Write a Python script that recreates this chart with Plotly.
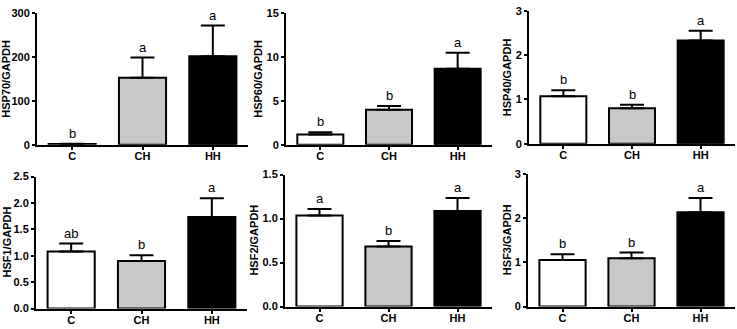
import plotly.graph_objects as go

categories = ["C", "CH", "HH"]
bar_colors = ["#ffffff", "#c8c8c8", "#000000"]

titles = ["HSP70/GAPDH", "HSP60/GAPDH", "HSP40/GAPDH", "HSF1/GAPDH", "HSF2/GAPDH", "HSF3/GAPDH"]

hsp70 = [1.5, 152, 201]
hsp70_err = [0.5, 46, 70]
hsp70_letters = ["b", "a", "a"]

hsp60 = [1.17, 3.97, 8.63]
hsp60_err = [0.25, 0.43, 1.82]
hsp60_letters = ["b", "b", "a"]

hsp40 = [1.07, 0.80, 2.33]
hsp40_err = [0.14, 0.08, 0.22]
hsp40_letters = ["b", "b", "a"]

hsf1 = [1.08, 0.90, 1.735]
hsf1_err = [0.15, 0.11, 0.355]
hsf1_letters = ["ab", "b", "a"]

hsf2 = [1.035, 0.684, 1.087]
hsf2_err = [0.075, 0.062, 0.146]
hsf2_letters = ["a", "b", "a"]

hsf3 = [1.05, 1.09, 2.13]
hsf3_err = [0.13, 0.13, 0.32]
hsf3_letters = ["b", "b", "a"]

y_ranges = [[0, 300], [0, 15], [0, 3], [0, 2.5], [0, 1.5], [0, 3]]
y_dticks = [100, 5, 1, 0.5, 0.5, 1]
y_tickfmt = ["", "", "", ".1f", ".1f", ""]

panels = [
    (hsp70, hsp70_err, hsp70_letters),
    (hsp60, hsp60_err, hsp60_letters),
    (hsp40, hsp40_err, hsp40_letters),
    (hsf1, hsf1_err, hsf1_letters),
    (hsf2, hsf2_err, hsf2_letters),
    (hsf3, hsf3_err, hsf3_letters),
]

W, H = 737, 329
# pixel extents of each panel: (x_left, x_right, y_top, y_bottom, title_x)
px = [
    (37, 248, 7, 144, 6),
    (286, 492, 7, 144, 258),
    (529, 735, 5, 143, 507),
    (36, 247, 177, 314, 7),
    (285, 492, 175, 312, 254),
    (528, 735, 174, 312, 507),
]

font_family = "Liberation Sans, Arial, sans-serif"
fig = go.Figure()
layout = {}
annotations = []

for i, ((vals, errs, letters), (x0, x1, yt, yb, tx)) in enumerate(zip(panels, px)):
    n = i + 1
    xa = "x" if n == 1 else f"x{n}"
    ya = "y" if n == 1 else f"y{n}"
    fig.add_trace(go.Bar(
        x=categories, y=vals, xaxis=xa, yaxis=ya,
        marker=dict(color=bar_colors, line=dict(color="black", width=2)),
        width=0.67,
        error_y=dict(type="data", array=errs, arrayminus=[0] * 3, symmetric=False,
                     color="black", thickness=2, width=12),
        showlegend=False,
    ))
    xkey = "xaxis" if n == 1 else f"xaxis{n}"
    ykey = "yaxis" if n == 1 else f"yaxis{n}"
    layout[xkey] = dict(
        domain=[x0 / W, x1 / W], anchor=ya, range=[-0.5, 2.5],
        showline=True, linecolor="black", linewidth=2, showgrid=False, zeroline=False,
        ticks="outside", ticklen=3, tickwidth=1.5, tickcolor="black",
        ticklabelstandoff=-3,
        tickfont=dict(family=font_family, size=11, color="black", weight="bold"),
        fixedrange=True,
    )
    layout[ykey] = dict(
        domain=[1 - yb / H, 1 - yt / H], anchor=xa, range=y_ranges[i],
        dtick=y_dticks[i], tick0=0, tickformat=y_tickfmt[i],
        showline=True, linecolor="black", linewidth=2, showgrid=False, zeroline=False,
        ticks="outside", ticklen=3, tickwidth=1.5, tickcolor="black",
        tickfont=dict(family=font_family, size=11, color="black", weight="bold"),
        fixedrange=True,
    )
    annotations.append(dict(
        text=titles[i], textangle=-90, xref="paper", yref="paper",
        x=tx / W, y=1 - ((yt + yb) / 2) / H, xanchor="center", yanchor="middle",
        showarrow=False, font=dict(family=font_family, size=11, color="black", weight="bold"),
    ))
    for c, v, e, lt in zip(categories, vals, errs, letters):
        annotations.append(dict(
            text=lt, xref=xa, yref=ya, x=c, y=v + e, xanchor="center", yanchor="bottom",
            yshift=1, showarrow=False,
            font=dict(family=font_family, size=13, color="black"),
        ))

fig.update_layout(
    **layout,
    annotations=annotations,
    width=W, height=H,
    margin=dict(l=0, r=0, t=0, b=0),
    paper_bgcolor="white", plot_bgcolor="white",
    bargap=0.33,
)

fig.write_html(
    "out.html",
    config={"displayModeBar": False},
    post_script="document.body.style.margin='0';document.body.style.overflow='hidden';",
)
